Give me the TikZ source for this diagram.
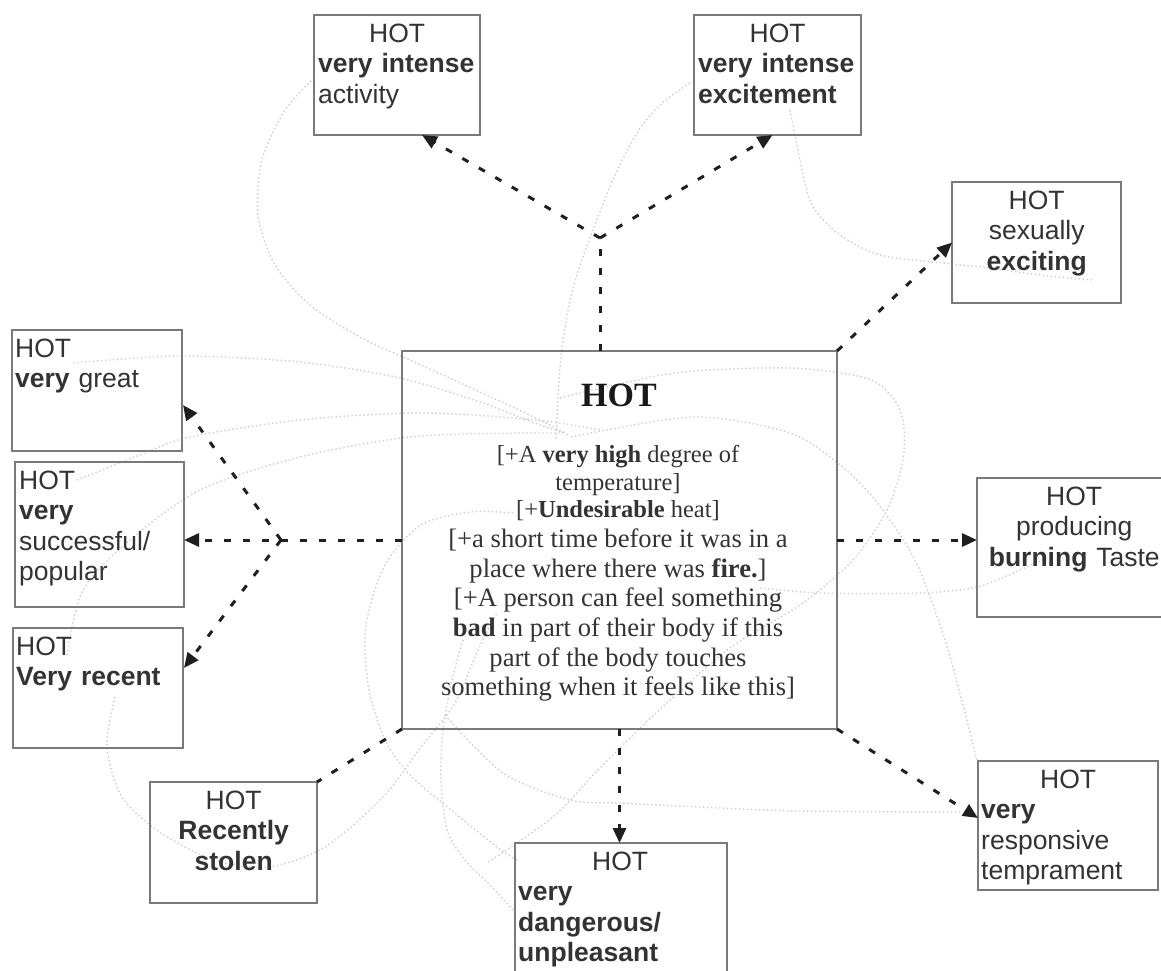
\documentclass[tikz,border=0pt]{standalone}
\usepackage{fontspec}
\newfontfamily\sansf{Liberation Sans}
\newfontfamily\seriff{Liberation Serif}
\usetikzlibrary{arrows.meta,calc}
\definecolor{boxline}{HTML}{7A7A7A}
\definecolor{txtgray}{HTML}{333333}
\definecolor{ghostgray}{HTML}{CDCDCD}
\begin{document}
\begin{tikzpicture}[x=1pt,y=-1pt,
  hbox/.style={draw=boxline, line width=1.8pt, inner sep=0pt, outer sep=0pt, anchor=north west},
  htxt/.style={inner sep=0pt, anchor=north west, align=left, text=txtgray,
     font=\sansf\fontsize{26.5}{30.5}\selectfont, execute at begin node={\parskip=0pt\parindent=0pt}},
  ctxt/.style={htxt, align=center},
  link/.style={draw=black!88, line width=3pt, dash pattern=on 7pt off 12pt},
  tip/.style={-{Triangle[length=15pt,width=13pt]}},
  ghost/.style={draw=ghostgray, line width=1.4pt, dash pattern=on 1.4pt off 2.6pt}]
\useasboundingbox (0,0) rectangle (1161,971);

% faint dotted background curves
\draw[ghost] plot[smooth] coordinates {(314,78) (285,110) (262,160) (258,215) (275,265) (310,305) (360,337) (410,360) (480,392) (540,420) (568,435)};
\draw[ghost] plot[smooth] coordinates {(73,363) (180,356) (300,362) (400,378) (480,402) (540,425) (566,433)};
\draw[ghost] plot[smooth] coordinates {(77,480) (140,455) (190,437) (300,420) (421,413) (536,420) (600,430)};
\draw[ghost] plot[smooth] coordinates {(67,655) (83,590) (130,540) (200,490) (300,457) (420,436) (566,433)};
\draw[ghost] plot[smooth] coordinates {(560,398) (675,373) (790,368) (866,378) (892,397) (903,420) (903,460) (887,510) (853,560) (800,605) (730,648) (656,713) (598,770) (553,817) (487,863)};
\draw[ghost] plot[smooth] coordinates {(571,437) (694,417) (790,433) (840,465) (875,500) (915,560) (945,640) (965,713) (978,765)};
\draw[ghost] plot[smooth] coordinates {(790,110) (800,160) (812,205) (840,235) (880,255) (943,263) (990,268) (1040,275) (1092,280)};
\draw[ghost] plot[smooth] coordinates {(690,83) (660,105) (637,133) (615,175) (598,217) (580,265) (568,310) (560,367) (556,440)};
\draw[ghost] plot[smooth] coordinates {(513,513) (470,512) (421,525) (385,565) (366,625) (368,685) (385,740) (410,775) (445,805) (497,847) (517,860)};
\draw[ghost] plot[smooth] coordinates {(115,697) (107,747) (122,797) (161,833) (214,860) (268,867) (325,847) (383,797) (421,747) (455,703) (478,650) (497,613)};
\draw[ghost] plot[smooth] coordinates {(463,640) (452,680) (443,730) (441,780) (447,830) (465,860) (490,885) (513,910)};
\draw[ghost] plot[smooth] coordinates {(445,715) (503,773) (570,800) (620,803) (700,807) (800,811) (962,812)};
\draw[ghost] plot[smooth] coordinates {(760,588) (820,593) (920,593) (977,587) (1020,570) (1050,556)};

% boxes
\node[hbox, minimum width=435, minimum height=378] (Z) at (402,351) {};
\node[hbox, minimum width=166, minimum height=120] (A) at (314,15) {};
\node[hbox, minimum width=167, minimum height=120] (B) at (694,15) {};
\node[hbox, minimum width=169, minimum height=121] (C) at (952,182) {};
\node[hbox, minimum width=170, minimum height=121] (D) at (12,330) {};
\node[hbox, minimum width=169, minimum height=145] (E) at (15,462) {};
\node[hbox, minimum width=170, minimum height=120] (F) at (13,628) {};
\node[hbox, minimum width=167, minimum height=121] (G) at (150,782) {};
\node[hbox, minimum width=212, minimum height=140] (H) at (515,843) {};
\node[hbox, minimum width=180, minimum height=129] (I) at (978,761) {};
\node[hbox, minimum width=194, minimum height=139] (J) at (977,478) {};

% box texts
\node[htxt, text width=158] (At) at ($(A.north west)+(4,8.5)$) {\makebox[158pt]{HOT}\\\textbf{very intense}\\activity};
\node[htxt, text width=159] (Bt) at ($(B.north west)+(4,8.5)$) {\makebox[159pt]{HOT}\\\textbf{very intense}\\\textbf{excitement}};
\node[ctxt, text width=161] (Ct) at ($(C.north west)+(4,8.5)$) {HOT\\sexually\\\textbf{exciting}};
\node[htxt, text width=162] (Dt) at ($(D.north west)+(3,8.5)$) {HOT\\\textbf{very} great};
\node[htxt, text width=161] (Et) at ($(E.north west)+(4,8.5)$) {HOT\\\textbf{very}\\successful/\\popular};
\node[htxt, text width=162] (Ft) at ($(F.north west)+(3,8.5)$) {HOT\\\textbf{Very recent}};
\node[ctxt, text width=159] (Gt) at ($(G.north west)+(4,8.5)$) {HOT\\\textbf{Recently}\\\textbf{stolen}};
\node[htxt, text width=204] (Ht) at ($(H.north west)+(3,8.5)$) {\makebox[204pt]{HOT}\\\textbf{very}\\\textbf{dangerous/}\\\textbf{unpleasant}};
\node[htxt, text width=174] (It) at ($(I.north west)+(3,8.5)$) {\makebox[174pt]{HOT}\\\textbf{very}\\responsive\\temprament};
\node[ctxt, text width=186] (Jt) at ($(J.north west)+(4,8.5)$) {HOT\\producing\\\textbf{burning} Taste};

% central texts
\node[inner sep=0pt, anchor=north, text=black!90, font=\seriff\bfseries\fontsize{34}{40}\selectfont] (Zt) at (619,383.5) {HOT};
\node[inner sep=0pt, anchor=north, align=center, text=txtgray, font=\seriff\fontsize{24.5}{27.5}\selectfont] (Zb1) at (618,445.3)
  {[+A \textbf{very high} degree of\\temperature]\\{}[+\textbf{Undesirable} heat]};
\node[inner sep=0pt, anchor=north, align=center, text=txtgray, font=\seriff\fontsize{26.6}{29.6}\selectfont] (Zb2) at (618,528.8)
  {[+a short time before it was in a\\place where there was \textbf{fire.}]\\{}[+A person can feel something\\\textbf{bad} in part of their body if this\\part of the body touches\\something when it feels like this]};

% connectors
\coordinate (jt) at (600,238);
\coordinate (jl) at (281,540);
\draw[link] (jt |- Z.north) -- (jt);
\draw[link,tip] (jt) -- ($(A.south)+(25,0)$);
\draw[link,tip] (jt) -- ($(B.south)+(-5,0)$);
\draw[link,tip] (Z.north east) -- (C.west);
\draw[link,tip] (Z.east) -- (J.west |- Z.east);
\draw[link,tip] (Z.south east) -- ($(I.north west)+(0,57)$);
\draw[link,tip] (Z.south) -- (Z.south |- H.north);
\draw[link] (Z.south west) -- (G.north east);
\draw[link,tip] (Z.west) -- (E.east |- Z.west);
\draw[link,tip] (jl) -- ($(D.south east)+(1,-46)$);
\draw[link,tip] (jl) -- ($(F.north east)+(1,40)$);
\end{tikzpicture}
\end{document}
